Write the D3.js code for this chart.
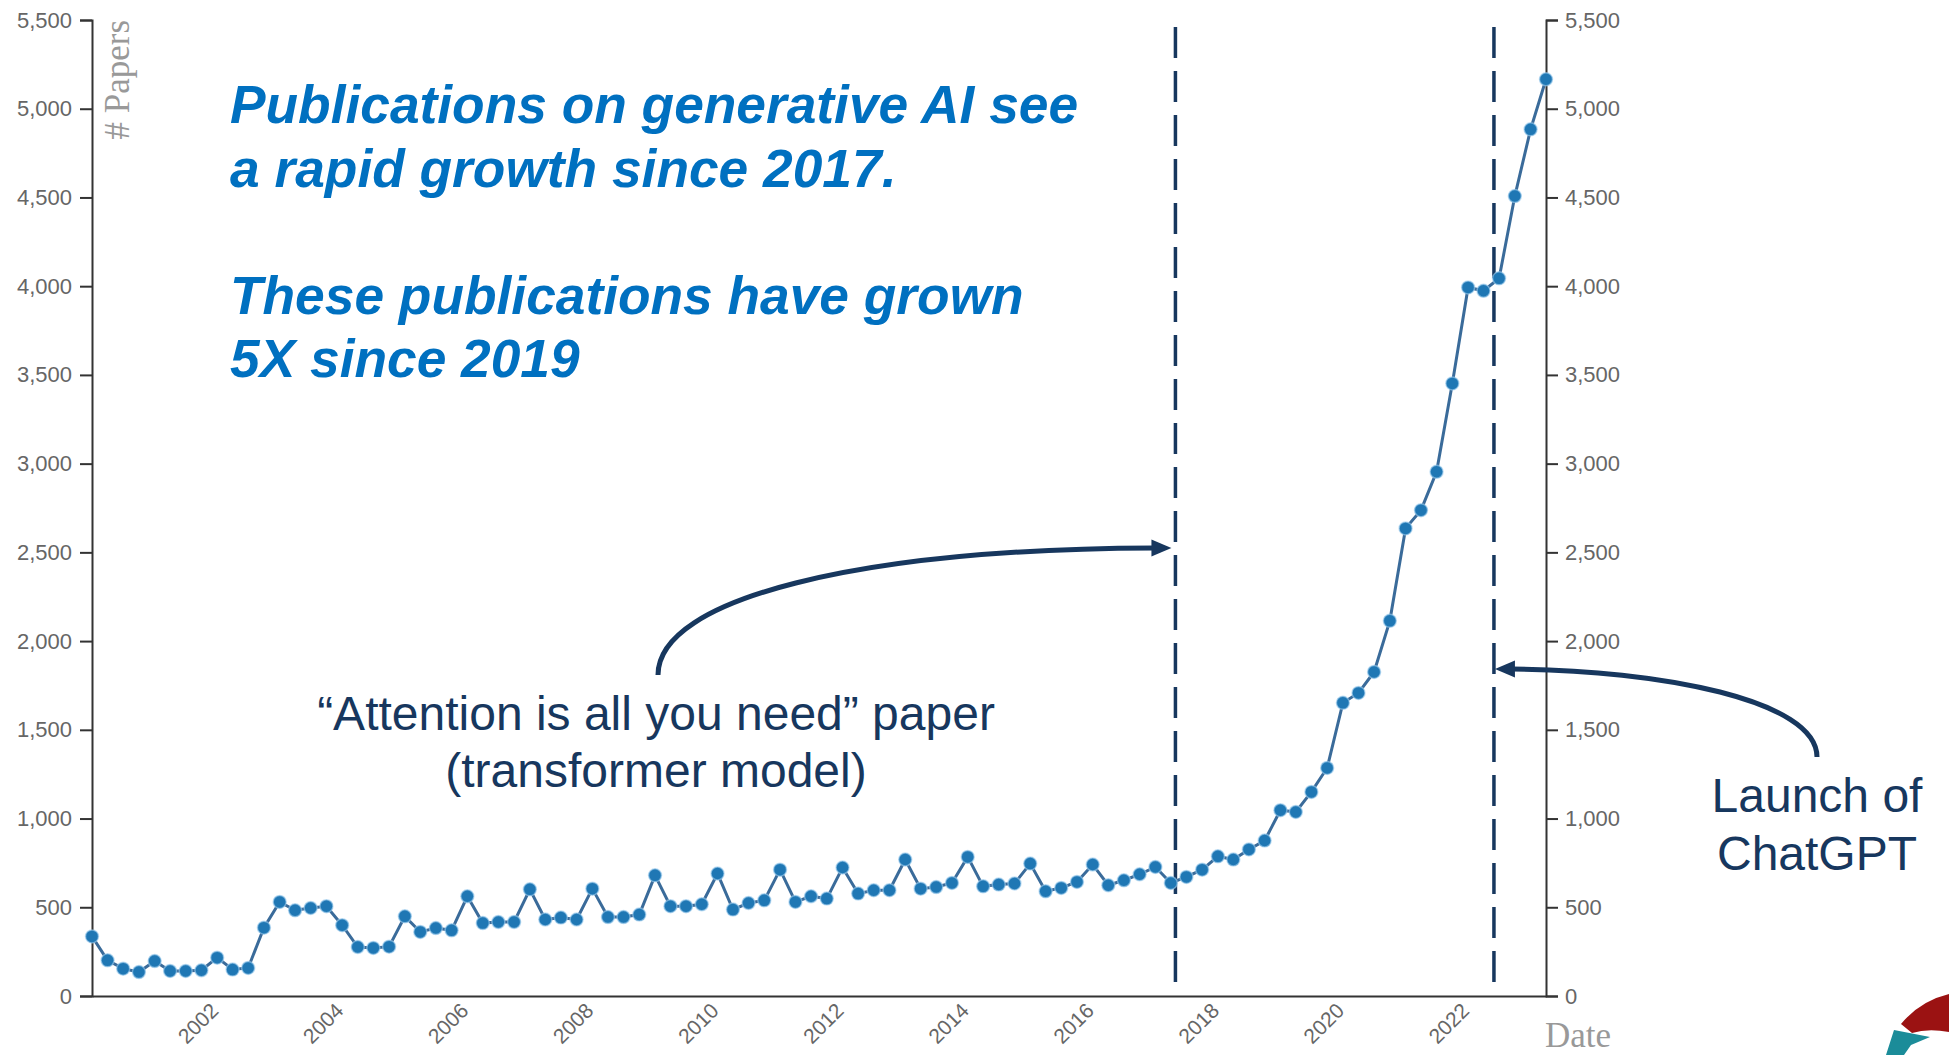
<!DOCTYPE html>
<html>
<head>
<meta charset="utf-8">
<script src="https://cdn.jsdelivr.net/npm/d3@7"></script>
<style>
  body { margin: 0; background: #ffffff; }
  svg { display: block; }
</style>
</head>
<body>
<div id="container"></div>
<script>
// Size of the picture
var width = 1949;
var height = 1055;
var margin = {top: 20, right: 403, bottom: 59, left: 92};

// Quarterly number of papers, starting 2000 Q1
var papers = [
  336, 201, 154, 135, 197, 141, 141, 145, 216, 149, 158, 385,
  530, 483, 496, 506, 399, 276, 271, 278, 449, 361, 383, 370,
  562, 411, 417, 417, 601, 431, 442, 431, 605, 445, 445, 459,
  680, 506, 506, 517, 690, 487, 524, 539, 712, 530, 562, 549,
  724, 577, 596, 596, 769, 605, 614, 637, 784, 618, 628, 634,
  746, 590, 609, 643, 741, 624, 652, 686, 727, 637, 671, 712,
  787, 769, 826, 876, 1047, 1037, 1150, 1285, 1652, 1708, 1826, 2114,
  2635, 2738, 2954, 3452, 3993, 3974, 4044, 4508, 4884, 5166
];
var firstQuarter = new Date(2000, 0, 1);

// Axis ticks
var yTicks = [0, 500, 1000, 1500, 2000, 2500, 3000, 3500, 4000, 4500, 5000, 5500];
var xTickYears = [2002, 2004, 2006, 2008, 2010, 2012, 2014, 2016, 2018, 2020, 2022];

// Event markers (dashed lines)
var eventDates = ["2017-04-28", "2022-06-01"];

// Texts
var headline = ["Publications on generative AI see", "a rapid growth since 2017.", "", "These publications have grown", "5X since 2019"];
var attentionNote = ["\u201CAttention is all you need\u201D paper", "(transformer model)"];
var chatNote = ["Launch of", "ChatGPT"];

var navy = "#17375e";

// Build data rows
var rows = papers.map(function (v, i) {
  return {date: d3.timeMonth.offset(firstQuarter, i * 3), value: v};
});

var svg = d3.select("#container")
  .append("svg")
  .attr("width", width)
  .attr("height", height);

var x = d3.scaleTime()
  .domain([rows[0].date, rows[rows.length - 1].date])
  .range([margin.left, width - margin.right]);

var y = d3.scaleLinear()
  .domain([0, 5500])
  .range([height - margin.bottom, margin.top]);

// Style an axis group
function styleAxis(g) {
  g.select(".domain").attr("stroke", "#333").attr("stroke-width", 2);
  g.selectAll(".tick line").attr("stroke", "#333").attr("stroke-width", 2);
  g.selectAll(".tick text")
    .attr("fill", "#666")
    .style("font-family", "'Liberation Sans', Arial, sans-serif")
    .style("font-size", "22px");
}

// Left axis
svg.append("g")
  .attr("transform", "translate(" + margin.left + ",0)")
  .call(d3.axisLeft(y).tickValues(yTicks).tickSize(12).tickPadding(8).tickFormat(d3.format(",")))
  .call(styleAxis);

// Right axis
svg.append("g")
  .attr("transform", "translate(" + (width - margin.right) + ",0)")
  .call(d3.axisRight(y).tickValues(yTicks).tickSize(12).tickPadding(7).tickFormat(d3.format(",")))
  .call(styleAxis);

// Bottom axis with rotated year labels
var xAxis = svg.append("g")
  .attr("transform", "translate(0," + (height - margin.bottom) + ")")
  .call(d3.axisBottom(x)
    .tickValues(xTickYears.map(function (yr) { return new Date(yr, 0, 1); }))
    .tickSize(0)
    .tickSizeOuter(0)
    .tickFormat(d3.timeFormat("%Y")))
  .call(styleAxis);

xAxis.selectAll(".tick text")
  .attr("x", 0)
  .attr("y", 0)
  .attr("dy", 0)
  .attr("text-anchor", "end")
  .style("font-size", "21px")
  .attr("transform", "translate(2,16) rotate(-45)");

// Axis titles
svg.append("text")
  .attr("transform", "translate(129," + margin.top + ") rotate(-90)")
  .attr("text-anchor", "end")
  .attr("fill", "#999")
  .style("font-family", "'Liberation Serif', 'Times New Roman', serif")
  .style("font-size", "35px")
  .text("# Papers");

svg.append("text")
  .attr("x", width - margin.right - 1)
  .attr("y", 1047)
  .attr("fill", "#999")
  .style("font-family", "'Liberation Serif', 'Times New Roman', serif")
  .style("font-size", "35px")
  .text("Date");

// Event dashed lines
svg.selectAll(".event")
  .data(eventDates)
  .enter()
  .append("line")
  .attr("class", "event")
  .attr("x1", function (d) { return x(new Date(d)); })
  .attr("x2", function (d) { return x(new Date(d)); })
  .attr("y1", 27)
  .attr("y2", 984)
  .attr("stroke", navy)
  .attr("stroke-width", 3.5)
  .attr("stroke-dasharray", "31,13");

// Series line
var line = d3.line()
  .x(function (d) { return x(d.date); })
  .y(function (d) { return y(d.value); });

svg.append("path")
  .datum(rows)
  .attr("fill", "none")
  .attr("stroke", "#3a6b9a")
  .attr("stroke-width", 3)
  .attr("d", line);

svg.selectAll(".dot")
  .data(rows)
  .enter()
  .append("circle")
  .attr("class", "dot")
  .attr("cx", function (d) { return x(d.date); })
  .attr("cy", function (d) { return y(d.value); })
  .attr("r", 6.5)
  .attr("fill", "#1f77b4")
  .attr("stroke", "#9fcdef")
  .attr("stroke-opacity", 0.6)
  .attr("stroke-width", 1.5);

// Headline
svg.append("g")
  .selectAll("text")
  .data(headline)
  .enter()
  .append("text")
  .attr("x", 230)
  .attr("y", function (d, i) { return 123 + i * 63.5; })
  .attr("fill", "#0070c0")
  .style("font-family", "'Liberation Sans', Arial, sans-serif")
  .style("font-weight", "bold")
  .style("font-style", "italic")
  .style("font-size", "53.3px")
  .text(function (d) { return d; });

// Annotation texts
function note(lines, cx, y0, gap) {
  svg.append("g")
    .selectAll("text")
    .data(lines)
    .enter()
    .append("text")
    .attr("x", cx)
    .attr("y", function (d, i) { return y0 + i * gap; })
    .attr("text-anchor", "middle")
    .attr("fill", navy)
    .style("font-family", "'Liberation Sans', Arial, sans-serif")
    .style("font-size", "48px")
    .text(function (d) { return d; });
}
note(attentionNote, 656, 730, 57);
note(chatNote, 1817, 812, 58);

// Curved arrows pointing at the dashed lines
var tip1 = x(new Date(eventDates[0])) - 4;
var tip2 = x(new Date(eventDates[1])) + 1;
var arrows = [
  {d: "M658,675 C658,598 860,549 " + (tip1 - 17) + ",548", head: [[tip1, 548], [tip1 - 20, 539.5], [tip1 - 20, 556.5]]},
  {d: "M1817,757 C1817,700 1660,670 " + (tip2 + 17) + ",669", head: [[tip2, 669], [tip2 + 20, 660.5], [tip2 + 20, 677.5]]}
];

svg.selectAll(".arrow")
  .data(arrows)
  .enter()
  .append("path")
  .attr("class", "arrow")
  .attr("d", function (d) { return d.d; })
  .attr("fill", "none")
  .attr("stroke", navy)
  .attr("stroke-width", 5);

svg.selectAll(".head")
  .data(arrows)
  .enter()
  .append("polygon")
  .attr("class", "head")
  .attr("points", function (d) { return d.head.map(function (p) { return p.join(","); }).join(" "); })
  .attr("fill", navy);

// Corner logo fragment
svg.append("path")
  .attr("d", "M1901,1024 Q1920,1001 1949,994 L1949,1032 Q1928,1028 1912,1033 Z")
  .attr("fill", "#9b1212");
svg.append("path")
  .attr("d", "M1886,1055 L1894,1030 L1930,1037 L1911,1045 L1904,1055 Z")
  .attr("fill", "#1b8c99");
</script>
</body>
</html>
